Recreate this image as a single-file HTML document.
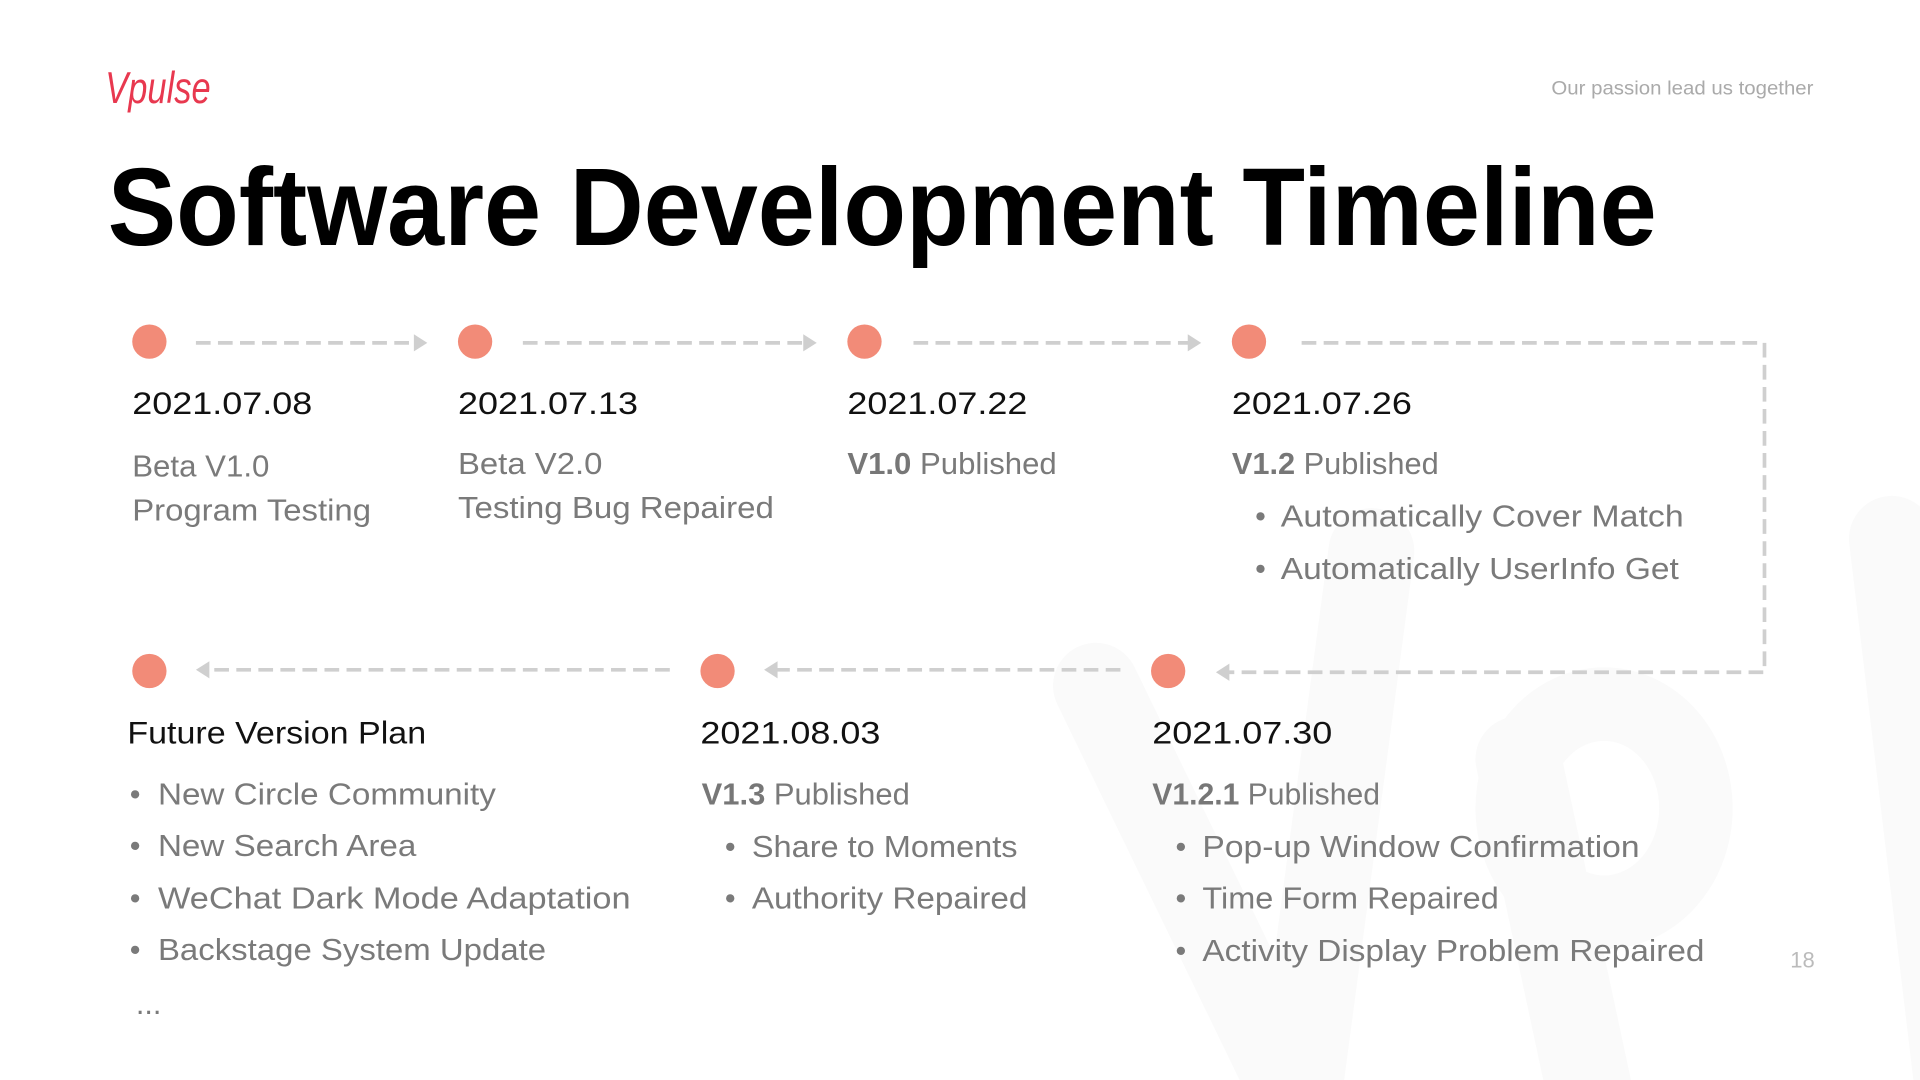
<!DOCTYPE html>
<html><head><meta charset="utf-8"><style>
html,body{margin:0;padding:0;width:1920px;height:1080px;overflow:hidden;background:#fff}
svg{display:block;overflow:hidden}
text{font-family:"Liberation Sans",sans-serif}
.d{font-size:26px;fill:#111}
.g{font-size:25px;fill:#7a7a7a}
.b{font-weight:bold;fill:#777}
.l{stroke:#cfcfcf;stroke-width:3;stroke-dasharray:12 6;fill:none}
.c{fill:#f28b78}
.a{fill:#cfcfcf}
.w{stroke:#fafafa;stroke-width:70;stroke-linecap:round;fill:none}
</style></head><body>
<svg width="1920" height="1080" viewBox="0 0 1568 882" xmlns="http://www.w3.org/2000/svg">
<rect width="1568" height="882" fill="#fff"/>
<path class="w" d="M895 560L1060 900L1120 450"/>
<path class="w" d="M1240 620L1300 900"/>
<ellipse cx="1310" cy="660" rx="75" ry="85" stroke="#fafafa" stroke-width="60" fill="none"/>
<path class="w" d="M1545 440L1600 900"/>
<text x="86" y="84" font-size="36" fill="#e8384f" font-style="italic" font-family="DejaVu Sans,cursive" textLength="86" lengthAdjust="spacingAndGlyphs">Vpulse</text>
<text x="1267" y="77" font-size="16" fill="#aaa" textLength="214" lengthAdjust="spacingAndGlyphs">Our passion lead us together</text>
<text x="88" y="200" font-size="90" font-weight="bold" fill="#000" textLength="1265" lengthAdjust="spacingAndGlyphs">Software Development Timeline</text>

<circle class="c" cx="122" cy="279" r="14"/><circle class="c" cx="388" cy="279" r="14"/>
<circle class="c" cx="706" cy="279" r="14"/><circle class="c" cx="1020" cy="279" r="14"/>
<circle class="c" cx="122" cy="548" r="14"/><circle class="c" cx="586" cy="548" r="14"/>
<circle class="c" cx="954" cy="548" r="14"/>

<path class="l" d="M160 280H340"/><path class="a" d="M338 273l11 7-11 7z"/>
<path class="l" d="M427 280H658"/><path class="a" d="M656 273l11 7-11 7z"/>
<path class="l" d="M746 280H972"/><path class="a" d="M970 273l11 7-11 7z"/>
<path class="l" d="M1063 280H1441V549H1002"/><path class="a" d="M1004 542l-11 7 11 7z"/>
<path class="l" d="M547 547H170"/><path class="a" d="M171 540l-11 7 11 7z"/>
<path class="l" d="M915 547H634"/><path class="a" d="M635 540l-11 7 11 7z"/>

<text class="d" x="108" y="338" textLength="147" lengthAdjust="spacingAndGlyphs">2021.07.08</text>
<text class="d" x="374" y="338" textLength="147" lengthAdjust="spacingAndGlyphs">2021.07.13</text>
<text class="d" x="692" y="338" textLength="147" lengthAdjust="spacingAndGlyphs">2021.07.22</text>
<text class="d" x="1006" y="338" textLength="147" lengthAdjust="spacingAndGlyphs">2021.07.26</text>

<text class="g" x="108" y="389" textLength="112" lengthAdjust="spacingAndGlyphs">Beta V1.0</text>
<text class="g" x="108" y="425" textLength="195" lengthAdjust="spacingAndGlyphs">Program Testing</text>
<text class="g" x="374" y="387" textLength="118" lengthAdjust="spacingAndGlyphs">Beta V2.0</text>
<text class="g" x="374" y="423" textLength="258" lengthAdjust="spacingAndGlyphs">Testing Bug Repaired</text>
<text class="g" x="692" y="387" textLength="171" lengthAdjust="spacingAndGlyphs"><tspan class="b">V1.0</tspan> Published</text>
<text class="g" x="1006" y="387" textLength="169" lengthAdjust="spacingAndGlyphs"><tspan class="b">V1.2</tspan> Published</text>
<text class="g" x="1025" y="430">•</text><text class="g" x="1046" y="430" textLength="329" lengthAdjust="spacingAndGlyphs">Automatically Cover Match</text>
<text class="g" x="1025" y="473">•</text><text class="g" x="1046" y="473" textLength="325" lengthAdjust="spacingAndGlyphs">Automatically UserInfo Get</text>

<text class="d" x="104" y="607" textLength="244" lengthAdjust="spacingAndGlyphs">Future Version Plan</text>
<text class="g" x="106" y="657">•</text><text class="g" x="129" y="657" textLength="276" lengthAdjust="spacingAndGlyphs">New Circle Community</text>
<text class="g" x="106" y="699">•</text><text class="g" x="129" y="699" textLength="211" lengthAdjust="spacingAndGlyphs">New Search Area</text>
<text class="g" x="106" y="742">•</text><text class="g" x="129" y="742" textLength="386" lengthAdjust="spacingAndGlyphs">WeChat Dark Mode Adaptation</text>
<text class="g" x="106" y="784">•</text><text class="g" x="129" y="784" textLength="317" lengthAdjust="spacingAndGlyphs">Backstage System Update</text>
<text class="g" x="111" y="828" font-size="18">...</text>

<text class="d" x="572" y="607" textLength="147" lengthAdjust="spacingAndGlyphs">2021.08.03</text>
<text class="g" x="573" y="657" textLength="170" lengthAdjust="spacingAndGlyphs"><tspan class="b">V1.3</tspan> Published</text>
<text class="g" x="592" y="700">•</text><text class="g" x="614" y="700" textLength="217" lengthAdjust="spacingAndGlyphs">Share to Moments</text>
<text class="g" x="592" y="742">•</text><text class="g" x="614" y="742" textLength="225" lengthAdjust="spacingAndGlyphs">Authority Repaired</text>

<text class="d" x="941" y="607" textLength="147" lengthAdjust="spacingAndGlyphs">2021.07.30</text>
<text class="g" x="941" y="657" textLength="186" lengthAdjust="spacingAndGlyphs"><tspan class="b">V1.2.1</tspan> Published</text>
<text class="g" x="960" y="700">•</text><text class="g" x="982" y="700" textLength="357" lengthAdjust="spacingAndGlyphs">Pop-up Window Confirmation</text>
<text class="g" x="960" y="742">•</text><text class="g" x="982" y="742" textLength="242" lengthAdjust="spacingAndGlyphs">Time Form Repaired</text>
<text class="g" x="960" y="785">•</text><text class="g" x="982" y="785" textLength="410" lengthAdjust="spacingAndGlyphs">Activity Display Problem Repaired</text>

<text x="1462" y="790" font-size="18" fill="#bbb">18</text>
</svg>
</body></html>
